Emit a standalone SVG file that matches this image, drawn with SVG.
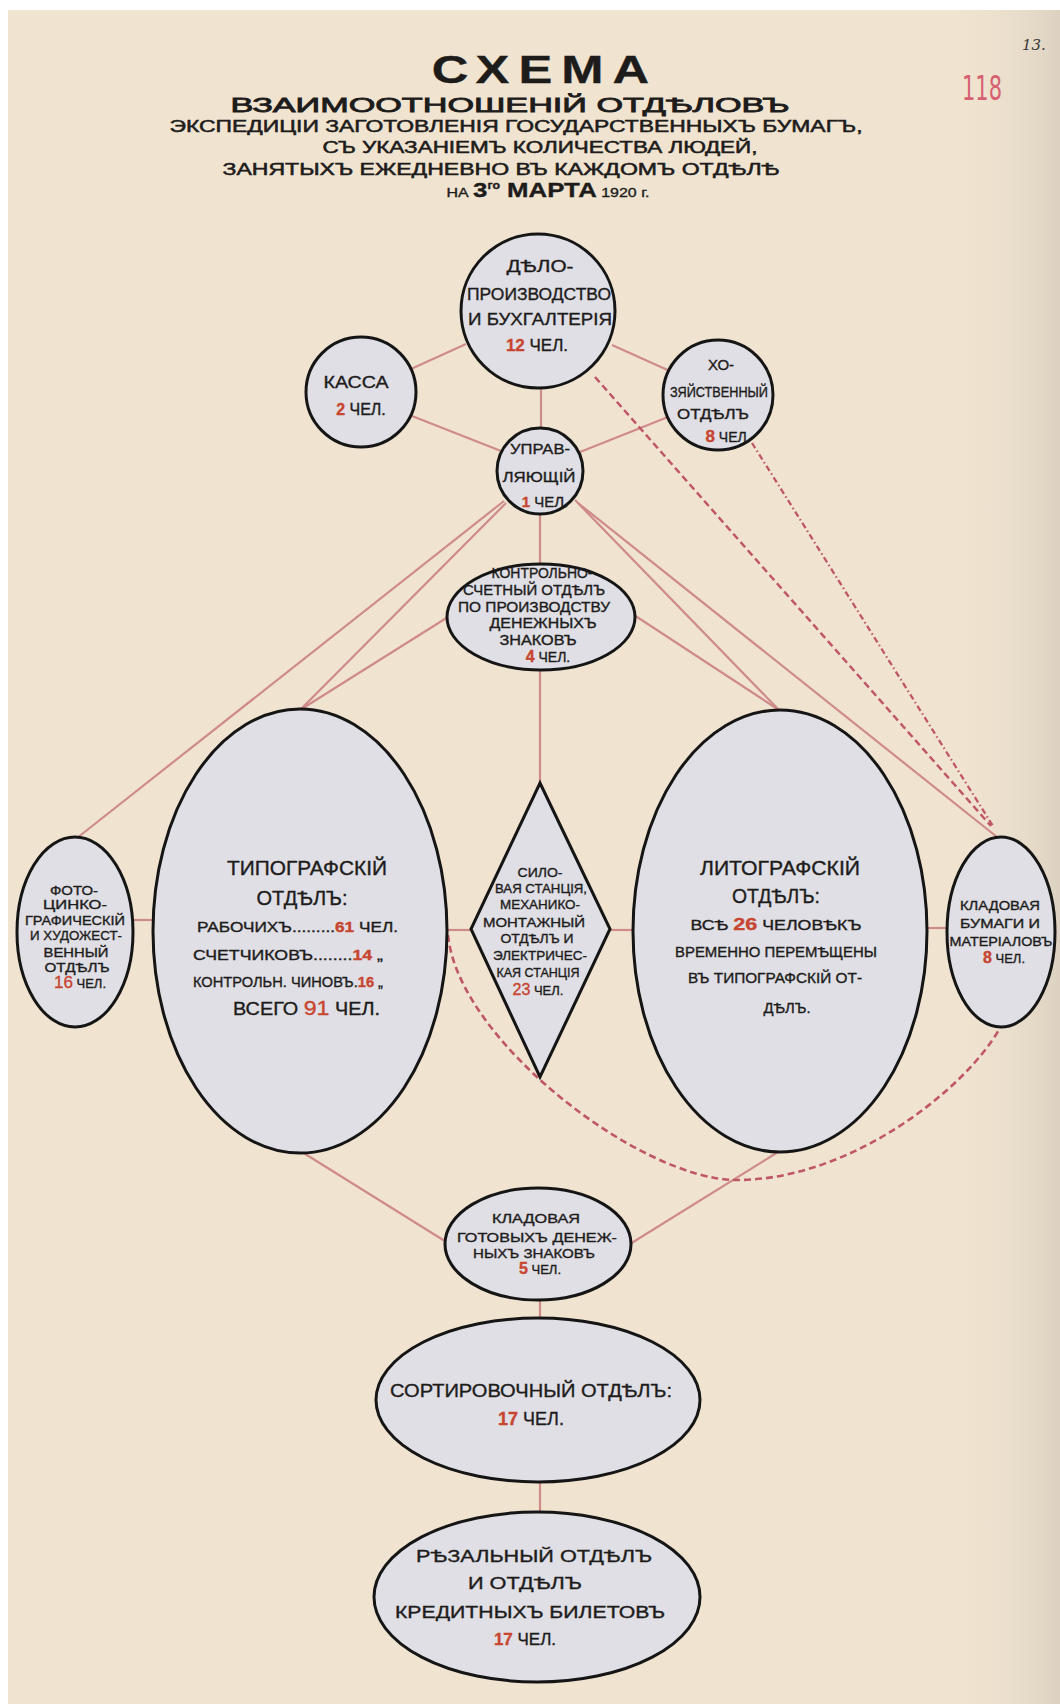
<svg xmlns="http://www.w3.org/2000/svg" width="1060" height="1704" viewBox="0 0 1060 1704">
<defs>
<style>
.t{font-family:"Liberation Sans","DejaVu Sans",sans-serif;fill:#1e1c1b;stroke:#1e1c1b;stroke-width:0.35;text-anchor:middle}
.b{font-weight:bold}
.r{fill:#c8452f;stroke:#c8452f}
.n{fill:#dfdfe5;stroke:#161515;stroke-width:3}
.c{stroke:#cf8a8a;stroke-width:2.2;fill:none}
.d{stroke:#bf5764;stroke-width:2.6;stroke-dasharray:7 4;fill:none}
.dd{stroke:#bf5764;stroke-width:2.3;stroke-dasharray:6 3 1.5 3;fill:none}
.s13{font-size:13px}.s14{font-size:14px}.s15{font-size:15px}.s16{font-size:16px}.s17{font-size:17px}.s18{font-size:18px}.s20{font-size:20px}
</style>
<linearGradient id="edge" x1="0" y1="0" x2="1" y2="0">
<stop offset="0" stop-color="#e9ddca" stop-opacity="0"/>
<stop offset="1" stop-color="#d8cdbd" stop-opacity="0.8"/>
</linearGradient>
</defs>
<rect width="1060" height="1704" fill="#ffffff"/>
<rect x="8" y="10" width="1052" height="1694" fill="#f0e4d1"/>
<rect x="960" y="10" width="100" height="1694" fill="url(#edge)"/>

<g id="marginalia">
<text x="1022" y="50" style="font-family:'DejaVu Serif',serif;font-style:italic;font-size:15px;fill:#3a3a3a">13.</text>
<text x="962" y="100" style="font-family:'DejaVu Sans',sans-serif;font-size:34px;fill:#d66070;font-weight:normal" textLength="40" lengthAdjust="spacingAndGlyphs">118</text>
</g>

<g id="title">
<text class="t b" x="0" y="0" transform="translate(545,83) scale(1.3,1)" style="font-size:39px;letter-spacing:7px">СХЕМА</text>
<text class="t" x="510" y="112" style="font-size:20px;stroke-width:0.8" textLength="559" lengthAdjust="spacingAndGlyphs">ВЗАИМООТНОШЕНІЙ  ОТДѢЛОВЪ</text>
<text class="t" x="516" y="132" style="font-size:16px;stroke-width:0.5" textLength="693" lengthAdjust="spacingAndGlyphs">ЭКСПЕДИЦІИ  ЗАГОТОВЛЕНІЯ  ГОСУДАРСТВЕННЫХЪ  БУМАГЪ,</text>
<text class="t" x="540" y="153" style="font-size:16px;stroke-width:0.5" textLength="435" lengthAdjust="spacingAndGlyphs">СЪ  УКАЗАНІЕМЪ  КОЛИЧЕСТВА  ЛЮДЕЙ,</text>
<text class="t" x="501" y="175" style="font-size:16px;stroke-width:0.5" textLength="557" lengthAdjust="spacingAndGlyphs">ЗАНЯТЫХЪ  ЕЖЕДНЕВНО  ВЪ  КАЖДОМЪ  ОТДѢЛѢ</text>
<text class="t" x="548" y="197" style="font-size:13px" textLength="203" lengthAdjust="spacingAndGlyphs">НА <tspan class="b" style="font-size:21px">3</tspan><tspan class="b" dy="-8" style="font-size:10px">го</tspan><tspan class="b" dy="8" style="font-size:21px"> МАРТА</tspan> 1920 г.</text>
</g>

<g id="connectors">
<line class="c" x1="466" y1="344" x2="411" y2="369"/>
<line class="c" x1="612" y1="345" x2="672" y2="372"/>
<line class="c" x1="541" y1="388" x2="541" y2="429"/>
<line class="c" x1="412" y1="416" x2="501" y2="451"/>
<line class="c" x1="668" y1="417" x2="580" y2="452"/>
<line class="c" x1="504" y1="501" x2="77" y2="838"/>
<line class="c" x1="506" y1="503" x2="300" y2="710"/>
<line class="c" x1="448" y1="617" x2="300" y2="710"/>
<line class="c" x1="540" y1="514" x2="540" y2="565"/>
<line class="c" x1="540" y1="669" x2="540" y2="784"/>
<line class="c" x1="575" y1="500" x2="779" y2="710"/>
<line class="c" x1="634" y1="615" x2="779" y2="710"/>
<line class="c" x1="578" y1="503" x2="997" y2="837"/>
<line class="c" x1="132" y1="920" x2="154" y2="920"/>
<line class="c" x1="446" y1="930" x2="472" y2="930"/>
<line class="c" x1="609" y1="930" x2="634" y2="930"/>
<line class="c" x1="926" y1="928" x2="948" y2="928"/>
<line class="c" x1="302" y1="1152" x2="448" y2="1243"/>
<line class="c" x1="778" y1="1152" x2="630" y2="1244"/>
<line class="c" x1="540" y1="1299" x2="540" y2="1319"/>
<line class="c" x1="540" y1="1481" x2="540" y2="1513"/>
<line class="d" x1="595" y1="377" x2="991" y2="826"/>
<line class="dd" x1="752" y1="443" x2="993" y2="826"/>
<path class="d" d="M448,935 C458,1040 640,1180 737,1180 C850,1180 965,1090 1000,1028"/>
</g>

<g id="node-deloproizvodstvo">
<circle class="n" cx="538" cy="311" r="77"/>
<text class="t s17" x="540" y="272" textLength="67" lengthAdjust="spacingAndGlyphs">ДѢЛО-</text>
<text class="t s17" x="539" y="300" textLength="144" lengthAdjust="spacingAndGlyphs">ПРОИЗВОДСТВО</text>
<text class="t s17" x="540" y="325" textLength="144" lengthAdjust="spacingAndGlyphs">И БУХГАЛТЕРІЯ</text>
<text class="t s17" x="537" y="351"><tspan class="r b">12</tspan> ЧЕЛ.</text>
</g>

<g id="node-kassa">
<circle class="n" cx="361" cy="392" r="55"/>
<text class="t s16" x="356" y="388" textLength="65" lengthAdjust="spacingAndGlyphs">КАССА</text>
<text class="t s16" x="361" y="415"><tspan class="r b">2</tspan> ЧЕЛ.</text>
</g>

<g id="node-khoz">
<circle class="n" cx="718" cy="395" r="55"/>
<text class="t s15" x="721" y="370">ХО-</text>
<text class="t s14" x="719" y="397" textLength="98" lengthAdjust="spacingAndGlyphs">ЗЯЙСТВЕННЫЙ</text>
<text class="t s14" x="713" y="419" textLength="72" lengthAdjust="spacingAndGlyphs">ОТДѢЛЪ</text>
<text class="t s14" x="728" y="442"><tspan class="r b" style="font-size:17px">8</tspan> ЧЕЛ.</text>
</g>

<g id="node-upravlyayushchiy">
<circle class="n" cx="540" cy="471" r="43"/>
<text class="t s15" x="540" y="454" textLength="60" lengthAdjust="spacingAndGlyphs">УПРАВ-</text>
<text class="t s15" x="539" y="482" textLength="73" lengthAdjust="spacingAndGlyphs">ЛЯЮЩІЙ</text>
<text class="t s15" x="545" y="507"><tspan class="r b">1</tspan> ЧЕЛ.</text>
</g>

<g id="node-kontrolno">
<ellipse class="n" cx="541" cy="617" rx="94" ry="53"/>
<text class="t s14" x="542" y="578" textLength="101" lengthAdjust="spacingAndGlyphs">КОНТРОЛЬНО-</text>
<text class="t s14" x="534" y="595" textLength="142" lengthAdjust="spacingAndGlyphs">СЧЕТНЫЙ  ОТДѢЛЪ</text>
<text class="t s14" x="534" y="612" textLength="152" lengthAdjust="spacingAndGlyphs">ПО ПРОИЗВОДСТВУ</text>
<text class="t s14" x="543" y="628" textLength="107" lengthAdjust="spacingAndGlyphs">ДЕНЕЖНЫХЪ</text>
<text class="t s14" x="538" y="645" textLength="77" lengthAdjust="spacingAndGlyphs">ЗНАКОВЪ</text>
<text class="t s14" x="548" y="662"><tspan class="r b" style="font-size:16px">4</tspan> ЧЕЛ.</text>
</g>

<g id="node-foto">
<ellipse class="n" cx="75" cy="932" rx="58" ry="95"/>
<text class="t s13" x="74" y="895" textLength="48" lengthAdjust="spacingAndGlyphs">ФОТО-</text>
<text class="t s13" x="75" y="909" textLength="64" lengthAdjust="spacingAndGlyphs">ЦИНКО-</text>
<text class="t s13" x="75" y="925" textLength="100" lengthAdjust="spacingAndGlyphs">ГРАФИЧЕСКІЙ</text>
<text class="t s13" x="76" y="940" textLength="92" lengthAdjust="spacingAndGlyphs">И ХУДОЖЕСТ-</text>
<text class="t s13" x="76" y="957" textLength="65" lengthAdjust="spacingAndGlyphs">ВЕННЫЙ</text>
<text class="t s13" x="77" y="972" textLength="65" lengthAdjust="spacingAndGlyphs">ОТДѢЛЪ</text>
<text class="t s13" x="80" y="988"><tspan class="r" style="font-size:17px">16</tspan> ЧЕЛ.</text>
</g>

<g id="node-tipografskiy">
<ellipse class="n" cx="300" cy="931" rx="147" ry="222"/>
<text class="t s20" x="307" y="875" textLength="160" lengthAdjust="spacingAndGlyphs">ТИПОГРАФСКІЙ</text>
<text class="t s20" x="302" y="905" textLength="91" lengthAdjust="spacingAndGlyphs">ОТДѢЛЪ:</text>
<text class="t s14" x="197" y="932" style="text-anchor:start" textLength="201" lengthAdjust="spacingAndGlyphs">РАБОЧИХЪ.........<tspan class="r b">61</tspan> ЧЕЛ.</text>
<text class="t s14" x="193" y="960" style="text-anchor:start" textLength="190" lengthAdjust="spacingAndGlyphs">СЧЕТЧИКОВЪ........<tspan class="r b">14</tspan>  „</text>
<text class="t s14" x="193" y="987" style="text-anchor:start" textLength="190" lengthAdjust="spacingAndGlyphs">КОНТРОЛЬН. ЧИНОВЪ.<tspan class="r b">16</tspan>  „</text>
<text class="t s18" x="233" y="1015" style="text-anchor:start" textLength="147" lengthAdjust="spacingAndGlyphs">ВСЕГО <tspan class="r" style="font-size:21px">91</tspan> ЧЕЛ.</text>
</g>

<g id="node-silovaya">
<polygon class="n" points="540,783 610,929 540,1077 471,929" stroke-linejoin="miter"/>
<text class="t s13" x="540" y="877" textLength="45" lengthAdjust="spacingAndGlyphs">СИЛО-</text>
<text class="t s13" x="541" y="893" textLength="92" lengthAdjust="spacingAndGlyphs">ВАЯ СТАНЦІЯ,</text>
<text class="t s13" x="540" y="909" textLength="80" lengthAdjust="spacingAndGlyphs">МЕХАНИКО-</text>
<text class="t s13" x="534" y="927" textLength="102" lengthAdjust="spacingAndGlyphs">МОНТАЖНЫЙ</text>
<text class="t s13" x="537" y="943" textLength="73" lengthAdjust="spacingAndGlyphs">ОТДѢЛЪ И</text>
<text class="t s13" x="540" y="960" textLength="94" lengthAdjust="spacingAndGlyphs">ЭЛЕКТРИЧЕС-</text>
<text class="t s13" x="538" y="977" textLength="83" lengthAdjust="spacingAndGlyphs">КАЯ СТАНЦІЯ</text>
<text class="t s13" x="538" y="995"><tspan class="r" style="font-size:16px">23</tspan> ЧЕЛ.</text>
</g>

<g id="node-litografskiy">
<ellipse class="n" cx="780" cy="931" rx="147" ry="221"/>
<text class="t s20" x="780" y="875" textLength="160" lengthAdjust="spacingAndGlyphs">ЛИТОГРАФСКІЙ</text>
<text class="t s20" x="776" y="903" textLength="88" lengthAdjust="spacingAndGlyphs">ОТДѢЛЪ:</text>
<text class="t s14" x="776" y="930" textLength="171" lengthAdjust="spacingAndGlyphs">ВСѢ  <tspan class="r b" style="font-size:17px">26</tspan> ЧЕЛОВѢКЪ</text>
<text class="t s14" x="776" y="957" textLength="202" lengthAdjust="spacingAndGlyphs">ВРЕМЕННО ПЕРЕМѢЩЕНЫ</text>
<text class="t s14" x="775" y="983" textLength="174" lengthAdjust="spacingAndGlyphs">ВЪ ТИПОГРАФСКІЙ ОТ-</text>
<text class="t s14" x="787" y="1013" textLength="47" lengthAdjust="spacingAndGlyphs">ДѢЛЪ.</text>
</g>

<g id="node-kladovaya-bumagi">
<ellipse class="n" cx="1001" cy="932" rx="54" ry="95"/>
<text class="t s13" x="1000" y="910" textLength="80" lengthAdjust="spacingAndGlyphs">КЛАДОВАЯ</text>
<text class="t s13" x="1000" y="928" textLength="80" lengthAdjust="spacingAndGlyphs">БУМАГИ  И</text>
<text class="t s13" x="1001" y="946" textLength="103" lengthAdjust="spacingAndGlyphs">МАТЕРІАЛОВЪ</text>
<text class="t s13" x="1004" y="963"><tspan class="r b" style="font-size:16px">8</tspan> ЧЕЛ.</text>
</g>

<g id="node-kladovaya-gotovykh">
<ellipse class="n" cx="538" cy="1244" rx="93" ry="56"/>
<text class="t s13" x="536" y="1223" textLength="88" lengthAdjust="spacingAndGlyphs">КЛАДОВАЯ</text>
<text class="t s13" x="537" y="1242" textLength="160" lengthAdjust="spacingAndGlyphs">ГОТОВЫХЪ  ДЕНЕЖ-</text>
<text class="t s13" x="534" y="1258" textLength="122" lengthAdjust="spacingAndGlyphs">НЫХЪ  ЗНАКОВЪ</text>
<text class="t s13" x="540" y="1274"><tspan class="r b" style="font-size:16px">5</tspan> ЧЕЛ.</text>
</g>

<g id="node-sortirovochnyy">
<ellipse class="n" cx="538" cy="1400" rx="162" ry="82"/>
<text class="t s18" x="531" y="1397" textLength="282" lengthAdjust="spacingAndGlyphs">СОРТИРОВОЧНЫЙ  ОТДѢЛЪ:</text>
<text class="t s18" x="531" y="1425"><tspan class="r b">17</tspan> ЧЕЛ.</text>
</g>

<g id="node-rezalnyy">
<ellipse class="n" cx="537" cy="1597" rx="163" ry="85"/>
<text class="t s17" x="534" y="1562" textLength="236" lengthAdjust="spacingAndGlyphs">РѢЗАЛЬНЫЙ  ОТДѢЛЪ</text>
<text class="t s17" x="525" y="1589" textLength="114" lengthAdjust="spacingAndGlyphs">И  ОТДѢЛЪ</text>
<text class="t s17" x="530" y="1618" textLength="270" lengthAdjust="spacingAndGlyphs">КРЕДИТНЫХЪ  БИЛЕТОВЪ</text>
<text class="t s17" x="525" y="1645"><tspan class="r b">17</tspan> ЧЕЛ.</text>
</g>
</svg>
